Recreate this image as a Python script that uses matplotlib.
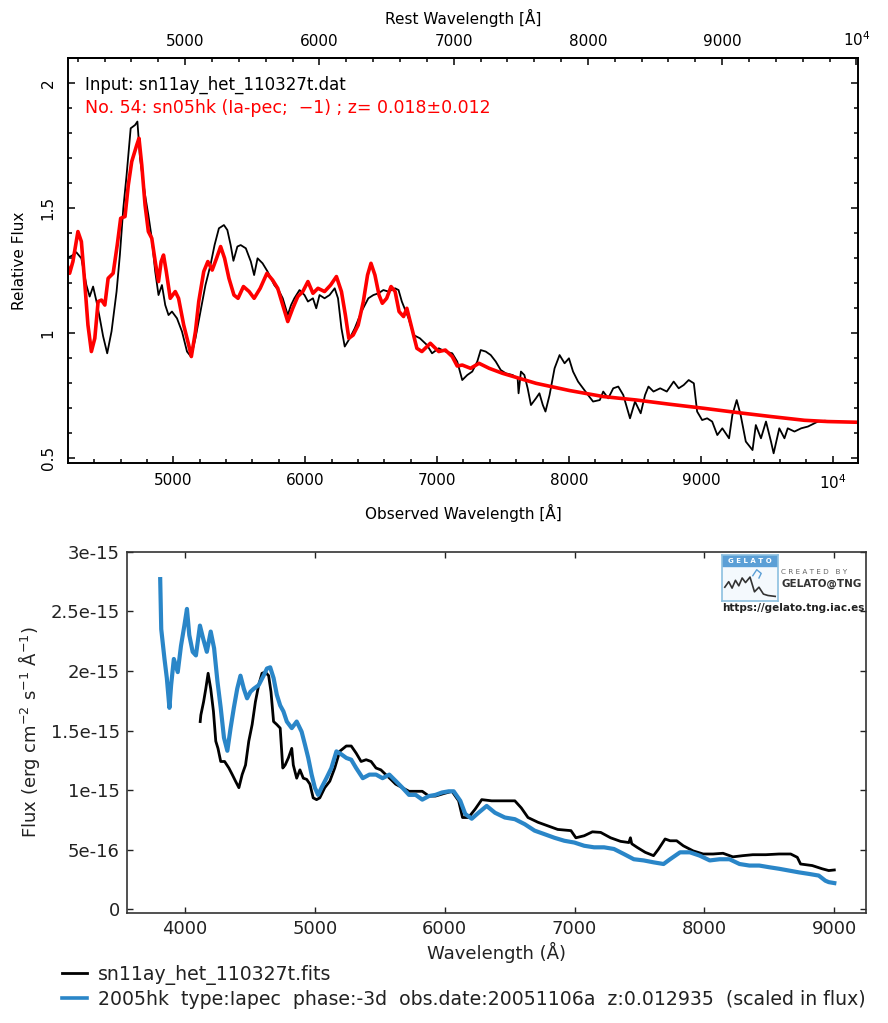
import matplotlib
matplotlib.use("Agg")
import matplotlib.pyplot as plt
from matplotlib.ticker import MultipleLocator, FixedLocator, FixedFormatter
from matplotlib.patches import Rectangle
from matplotlib.lines import Line2D

# ---------------- data: top panel (relative flux) ----------------
Z_FIT = 0.018

obs_wave = [4188, 4230, 4265, 4303, 4341, 4366, 4392, 4418, 4443, 4468, 4499, 4532, 4570, 4595,
            4621, 4646, 4677, 4710, 4728, 4748, 4786, 4811, 4837, 4863, 4888, 4914, 4939, 4964,
            4990, 5028, 5066, 5104, 5135, 5168, 5206, 5244, 5282, 5313, 5346, 5384, 5410, 5435,
            5456, 5486, 5511, 5550, 5588, 5613, 5639, 5677, 5715, 5766, 5804, 5830, 5868, 5893,
            5918, 5957, 5995, 6021, 6059, 6084, 6109, 6147, 6185, 6224, 6249, 6275, 6300, 6338,
            6376, 6427, 6479, 6517, 6555, 6593, 6631, 6682, 6708, 6733, 6784, 6822, 6870, 6924,
            6962, 7013, 7063, 7115, 7153, 7191, 7229, 7267, 7305, 7331, 7369, 7407, 7445, 7483,
            7521, 7573, 7611, 7618, 7636, 7662, 7687, 7712, 7750, 7776, 7802, 7822, 7853, 7891,
            7929, 7967, 8000, 8031, 8069, 8107, 8145, 8183, 8234, 8260, 8298, 8336, 8374, 8412,
            8463, 8501, 8544, 8577, 8603, 8641, 8692, 8742, 8794, 8832, 8870, 8908, 8947, 8972,
            9010, 9048, 9086, 9125, 9163, 9214, 9239, 9272, 9302, 9341, 9392, 9417, 9456, 9494,
            9532, 9552, 9595, 9634, 9659, 9710, 9761, 9812, 9888, 9939]
obs_flux = [1.30, 1.31, 1.324, 1.30, 1.193, 1.147, 1.187, 1.127, 1.06, 0.988, 0.92, 1.008, 1.167, 1.313,
            1.50, 1.633, 1.82, 1.833, 1.847, 1.70, 1.553, 1.473, 1.38, 1.247, 1.153, 1.193, 1.113, 1.073,
            1.087, 1.06, 1.007, 0.927, 0.906, 0.98, 1.087, 1.193, 1.273, 1.353, 1.42, 1.433, 1.413, 1.353,
            1.29, 1.347, 1.353, 1.34, 1.287, 1.233, 1.30, 1.28, 1.247, 1.193, 1.167, 1.14, 1.073, 1.113,
            1.14, 1.173, 1.153, 1.127, 1.14, 1.10, 1.153, 1.14, 1.153, 1.18, 1.14, 1.02, 0.947, 0.98,
            1.02, 1.087, 1.14, 1.153, 1.16, 1.173, 1.167, 1.18, 1.173, 1.127, 1.06, 0.993, 0.98, 0.953,
            0.92, 0.94, 0.927, 0.92, 0.887, 0.813, 0.833, 0.847, 0.887, 0.933, 0.927, 0.913, 0.887, 0.853,
            0.84, 0.833, 0.82, 0.76, 0.847, 0.833, 0.78, 0.713, 0.74, 0.76, 0.713, 0.687, 0.753, 0.86,
            0.913, 0.88, 0.90, 0.847, 0.807, 0.78, 0.753, 0.727, 0.733, 0.767, 0.74, 0.78, 0.787, 0.753,
            0.66, 0.727, 0.68, 0.753, 0.787, 0.767, 0.78, 0.767, 0.807, 0.78, 0.793, 0.813, 0.80, 0.687,
            0.653, 0.66, 0.647, 0.593, 0.62, 0.58, 0.673, 0.733, 0.673, 0.567, 0.533, 0.633, 0.58, 0.647,
            0.567, 0.52, 0.62, 0.58, 0.62, 0.607, 0.62, 0.627, 0.647, 0.65]

tpl_wave = [4188, 4214, 4239, 4277, 4303, 4328, 4353, 4379, 4405, 4430, 4456, 4481, 4506, 4544,
            4575, 4601, 4634, 4659, 4685, 4723, 4740, 4761, 4786, 4811, 4837, 4863, 4888, 4908,
            4926, 4947, 4977, 5015, 5040, 5079, 5117, 5137, 5168, 5193, 5231, 5262, 5295, 5328,
            5359, 5389, 5422, 5460, 5491, 5532, 5575, 5613, 5659, 5710, 5753, 5792, 5830, 5868,
            5906, 5944, 5982, 6021, 6059, 6097, 6147, 6193, 6237, 6275, 6305, 6331, 6364, 6402,
            6441, 6473, 6499, 6529, 6560, 6585, 6618, 6651, 6682, 6712, 6746, 6771, 6809, 6847,
            6885, 6949, 7013, 7063, 7115, 7153, 7191, 7254, 7318, 7395, 7496, 7750, 8005, 8260,
            8514, 8768, 9023, 9277, 9532, 9786, 9964, 10200]
tpl_flux = [1.287, 1.24, 1.287, 1.407, 1.367, 1.207, 1.033, 0.927, 0.98, 1.127, 1.133, 1.113, 1.22, 1.24,
            1.353, 1.46, 1.467, 1.593, 1.687, 1.753, 1.78, 1.673, 1.513, 1.407, 1.38, 1.287, 1.207, 1.287,
            1.313, 1.247, 1.14, 1.167, 1.14, 1.033, 0.953, 0.907, 1.007, 1.127, 1.247, 1.287, 1.253, 1.30,
            1.347, 1.30, 1.22, 1.153, 1.14, 1.187, 1.167, 1.14, 1.18, 1.24, 1.213, 1.18, 1.113, 1.047,
            1.10, 1.147, 1.167, 1.207, 1.16, 1.18, 1.167, 1.193, 1.227, 1.167, 1.073, 0.98, 0.993, 1.033,
            1.127, 1.233, 1.28, 1.233, 1.153, 1.12, 1.14, 1.187, 1.167, 1.087, 1.067, 1.10, 1.02, 0.94,
            0.927, 0.96, 0.927, 0.933, 0.907, 0.869, 0.873, 0.86, 0.88, 0.86, 0.84, 0.80, 0.771, 0.747,
            0.733, 0.716, 0.70, 0.683, 0.667, 0.652, 0.647, 0.644]

top_obs_ticks = [5000, 6000, 7000, 8000, 9000, 10000]
top_obs_labels = ["5000", "6000", "7000", "8000", "9000", r"10$^4$"]
top_rest_ticks = [5000, 6000, 7000, 8000, 9000, 10000]
top_rest_labels = ["5000", "6000", "7000", "8000", "9000", r"10$^4$"]
top_y_ticks = [0.5, 1.0, 1.5, 2.0]
top_y_labels = ["0.5", "1", "1.5", "2"]

# ---------------- data: bottom panel (flux, units of 1e-15) ----------------
tpl2_wave = [3809, 3817, 3842, 3860, 3880, 3893, 3914, 3944, 3969, 3995, 4015, 4033, 4059, 4084,
             4115, 4140, 4168, 4198, 4224, 4250, 4275, 4300, 4326, 4351, 4376, 4402, 4427, 4453,
             4478, 4504, 4529, 4567, 4605, 4631, 4656, 4682, 4707, 4733, 4758, 4784, 4822, 4860,
             4898, 4924, 4949, 4975, 5000, 5025, 5051, 5089, 5127, 5166, 5204, 5242, 5280, 5318,
             5369, 5420, 5471, 5521, 5573, 5624, 5674, 5725, 5776, 5827, 5878, 5929, 5979, 6031,
             6069, 6120, 6158, 6208, 6260, 6323, 6387, 6463, 6540, 6616, 6692, 6769, 6845, 6921,
             6998, 7074, 7150, 7227, 7303, 7379, 7456, 7532, 7608, 7685, 7735, 7812, 7888, 7964,
             8041, 8117, 8193, 8270, 8346, 8422, 8498, 8575, 8651, 8727, 8804, 8880, 8931, 8957, 9000]
tpl2_flux = [2.77, 2.35, 2.10, 1.94, 1.69, 1.88, 2.10, 1.99, 2.21, 2.38, 2.52, 2.30, 2.16, 2.13,
             2.38, 2.27, 2.16, 2.33, 2.19, 1.91, 1.69, 1.44, 1.33, 1.52, 1.69, 1.85, 1.96, 1.85,
             1.77, 1.825, 1.85, 1.88, 1.96, 2.02, 2.03, 1.94, 1.80, 1.71, 1.66, 1.575, 1.52, 1.575,
             1.49, 1.38, 1.27, 1.13, 1.02, 0.96, 1.02, 1.10, 1.185, 1.325, 1.30, 1.27, 1.255, 1.185,
             1.10, 1.13, 1.13, 1.10, 1.13, 1.075, 1.02, 0.96, 0.96, 0.92, 0.95, 0.96, 0.98, 0.99,
             0.99, 0.91, 0.80, 0.76, 0.81, 0.867, 0.81, 0.77, 0.756, 0.714, 0.66, 0.63, 0.60, 0.575,
             0.56, 0.533, 0.52, 0.52, 0.506, 0.464, 0.42, 0.41, 0.394, 0.38, 0.42, 0.478, 0.478, 0.45,
             0.41, 0.42, 0.42, 0.38, 0.367, 0.367, 0.353, 0.34, 0.325, 0.31, 0.297, 0.283, 0.24, 0.228, 0.22]

obs2_wave = [4117, 4122, 4143, 4160, 4178, 4198, 4219, 4237, 4254, 4275, 4305, 4338, 4364, 4389,
             4415, 4440, 4466, 4491, 4517, 4542, 4567, 4593, 4618, 4644, 4662, 4682, 4707, 4733,
             4753, 4771, 4796, 4822, 4834, 4860, 4885, 4911, 4937, 4962, 4987, 5013, 5038, 5076,
             5115, 5153, 5191, 5242, 5280, 5318, 5356, 5395, 5433, 5471, 5508, 5546, 5585, 5622,
             5674, 5725, 5789, 5827, 5878, 5929, 5990, 6056, 6107, 6137, 6183, 6234, 6285, 6361,
             6463, 6540, 6590, 6641, 6718, 6794, 6870, 6972, 7010, 7074, 7137, 7201, 7277, 7354,
             7418, 7430, 7440, 7481, 7544, 7608, 7646, 7697, 7735, 7786, 7837, 7913, 7990, 8066,
             8143, 8219, 8295, 8372, 8473, 8575, 8664, 8715, 8740, 8830, 8906, 8957, 9000]
obs2_flux = [1.575, 1.63, 1.74, 1.85, 1.98, 1.85, 1.66, 1.41, 1.35, 1.24, 1.24, 1.185, 1.13, 1.075,
             1.02, 1.13, 1.21, 1.41, 1.55, 1.74, 1.88, 1.98, 1.99, 1.96, 1.825, 1.575, 1.55, 1.52,
             1.185, 1.21, 1.27, 1.35, 1.21, 1.10, 1.17, 1.10, 1.09, 1.05, 0.935, 0.92, 0.935, 1.02,
             1.075, 1.185, 1.325, 1.37, 1.37, 1.31, 1.24, 1.255, 1.24, 1.185, 1.17, 1.13, 1.09, 1.05,
             1.02, 0.99, 0.99, 0.99, 0.95, 0.95, 0.97, 0.99, 0.91, 0.77, 0.77, 0.84, 0.92, 0.91,
             0.91, 0.91, 0.85, 0.77, 0.73, 0.70, 0.67, 0.66, 0.60, 0.617, 0.65, 0.645, 0.60, 0.57,
             0.56, 0.60, 0.55, 0.52, 0.478, 0.45, 0.505, 0.59, 0.575, 0.575, 0.533, 0.49, 0.464, 0.464,
             0.47, 0.44, 0.45, 0.458, 0.458, 0.464, 0.464, 0.436, 0.38, 0.367, 0.34, 0.325, 0.33]
FLUX_UNIT = 1e-15

bot_x_ticks = [4000, 5000, 6000, 7000, 8000, 9000]
bot_y_ticks = [0, 5e-16, 1e-15, 1.5e-15, 2e-15, 2.5e-15, 3e-15]
bot_y_labels = ["0", "5e-16", "1e-15", "1.5e-15", "2e-15", "2.5e-15", "3e-15"]

label_obs = "sn11ay_het_110327t.fits"
label_tpl = "2005hk  type:Iapec  phase:-3d  obs.date:20051106a  z:0.012935  (scaled in flux)"

# ---------------- figure ----------------
W, H = 888, 1023
fig = plt.figure(figsize=(W / 100, H / 100), dpi=100)
plt.rcParams['font.family'] = ['DejaVu Sans']


def frac(x0, y0, x1, y1):
    return [x0 / W, 1 - y1 / H, (x1 - x0) / W, (y1 - y0) / H]


# ----- top panel -----
ax1 = fig.add_axes(frac(68.3, 58.3, 858.3, 463.3))
ax1.plot(obs_wave, obs_flux, color='black', lw=1.3)
ax1.plot(tpl_wave, tpl_flux, color='#ff0000', lw=2.6)
ax1.set_xlim(4204, 10194)
ax1.set_ylim(0.48, 2.1)
ax1.xaxis.set_major_locator(FixedLocator(top_obs_ticks))
ax1.xaxis.set_major_formatter(FixedFormatter(top_obs_labels))
ax1.xaxis.set_minor_locator(MultipleLocator(200))
ax1.yaxis.set_major_locator(FixedLocator(top_y_ticks))
ax1.yaxis.set_major_formatter(FixedFormatter(top_y_labels))
ax1.yaxis.set_minor_locator(MultipleLocator(0.1))
ax1.tick_params(which='both', direction='in', top=False, right=True, width=1.1, colors='black')
ax1.tick_params(which='major', length=5)
ax1.tick_params(which='minor', length=2.8)
ax1.tick_params(axis='x', labelsize=11, pad=7)
ax1.tick_params(axis='y', labelsize=11, pad=9, labelrotation=90)
for lab in ax1.get_yticklabels():
    lab.set_va('center')
for s in ax1.spines.values():
    s.set_linewidth(1.4)
ax1.set_xlabel("Observed Wavelength [Å]", fontsize=11, labelpad=9)
ax1.set_ylabel("Relative Flux", fontsize=11, labelpad=10)

sec = ax1.secondary_xaxis('top', functions=(lambda x: x / (1 + Z_FIT), lambda x: x * (1 + Z_FIT)))
sec.xaxis.set_major_locator(FixedLocator(top_rest_ticks))
sec.xaxis.set_major_formatter(FixedFormatter(top_rest_labels))
sec.xaxis.set_minor_locator(MultipleLocator(200))
sec.tick_params(which='both', direction='in', width=1.1, labelsize=11, pad=7)
sec.tick_params(which='major', length=5)
sec.tick_params(which='minor', length=2.8)
sec.spines['top'].set_linewidth(1.4)
sec.set_xlabel("Rest Wavelength [Å]", fontsize=11, labelpad=4)

ax1.text(0.021, 0.935, "Input: sn11ay_het_110327t.dat", transform=ax1.transAxes,
         fontsize=12, color='black', va='center', ha='left')
ax1.text(0.021, 0.878, "No. 54: sn05hk (Ia-pec;  \u22121) ; z= 0.018\u00b10.012", transform=ax1.transAxes,
         fontsize=12.5, color='#ff0000', va='center', ha='left')

# ----- bottom panel -----
ax2 = fig.add_axes(frac(126.7, 551.7, 866.0, 912.7))
ax2.plot(obs2_wave, [v * FLUX_UNIT for v in obs2_flux], color='black', lw=2.0)
ax2.plot(tpl2_wave, [v * FLUX_UNIT for v in tpl2_flux], color='#2a86c8', lw=3.0)
ax2.set_xlim(3551, 9244)
ax2.set_ylim(-0.0285e-15, 3e-15)
ax2.xaxis.set_major_locator(FixedLocator(bot_x_ticks))
ax2.yaxis.set_major_locator(FixedLocator(bot_y_ticks))
ax2.yaxis.set_major_formatter(FixedFormatter(bot_y_labels))
ax2.tick_params(direction='in', top=True, right=True, length=4, width=1.0,
                labelsize=13, colors='#222222', pad=5)
for s in ax2.spines.values():
    s.set_linewidth(1.2)
    s.set_color('#333333')
ax2.set_xlabel("Wavelength (Å)", fontsize=13, color='#222222', labelpad=3)
ax2.set_ylabel("Flux (erg cm$^{-2}$ s$^{-1}$ Å$^{-1}$)", fontsize=13, color='#222222', labelpad=6)

handles = [Line2D([], [], color='black', lw=2.0), Line2D([], [], color='#2a86c8', lw=2.6)]
fig.legend(handles, [label_obs, label_tpl], loc='upper left',
           bbox_to_anchor=(62 / W, 1 - 965 / H), frameon=False, fontsize=13.6,
           handlelength=1.3, handletextpad=0.6, labelspacing=0.25, borderaxespad=0,
           borderpad=0, labelcolor='#222222')

# ----- GELATO logo -----
lg = fig.add_axes(frac(722, 555, 778, 601))
lg.set_xlim(0, 1)
lg.set_ylim(0, 1)
lg.set_xticks([])
lg.set_yticks([])
for s in lg.spines.values():
    s.set_color('#8cc0e0')
    s.set_linewidth(1.2)
lg.set_facecolor('#f4f9fd')
lg.add_patch(Rectangle((0, 0.76), 1, 0.24, color='#5b9fd6', transform=lg.transAxes))
lg.text(0.5, 0.88, "G E L A T O", color='white', fontsize=5, ha='center', va='center',
        fontweight='bold', transform=lg.transAxes)
logo_x = [0.05, 0.12, 0.18, 0.24, 0.30, 0.36, 0.42, 0.50, 0.58, 0.66, 0.74, 0.82, 0.95]
logo_y = [0.30, 0.42, 0.28, 0.45, 0.33, 0.50, 0.40, 0.52, 0.20, 0.30, 0.15, 0.12, 0.10]
lg.plot(logo_x, logo_y, color='#333333', lw=1.2)
lg.plot([0.55, 0.62, 0.70, 0.66], [0.55, 0.68, 0.60, 0.50], color='#5b9fd6', lw=1.0)

fig.text(781 / W, 1 - 572 / H, "C R E A T E D   B Y", fontsize=5.2, color='#666666', va='center')
fig.text(781 / W, 1 - 584 / H, "GELATO@TNG", fontsize=7.5, color='#333333', va='center',
         fontweight='bold')
fig.text(722 / W, 1 - 608 / H, "https://gelato.tng.iac.es", fontsize=7.5, color='#222222',
         va='center', fontweight='bold')

fig.savefig("out.png", dpi=100)
